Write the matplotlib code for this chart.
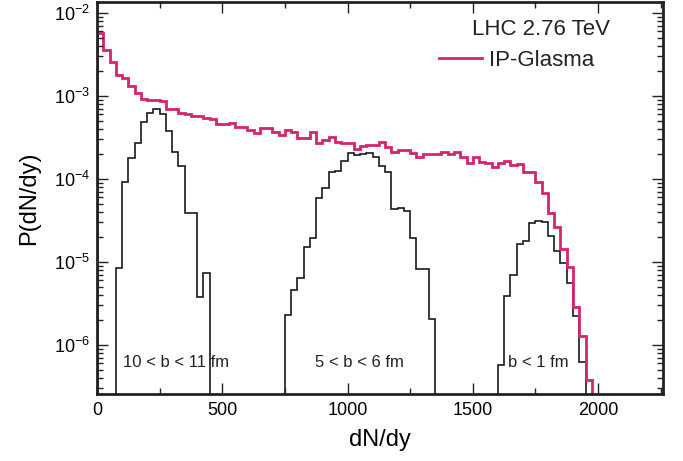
import numpy as np
import matplotlib
matplotlib.use("Agg")
import matplotlib.pyplot as plt
from matplotlib.lines import Line2D
from matplotlib.ticker import FixedLocator, LogLocator, NullFormatter

plt.rcParams['font.family'] = ['Liberation Sans', 'DejaVu Sans']
plt.rcParams['mathtext.fontset'] = 'custom'
plt.rcParams['mathtext.rm'] = 'Liberation Sans'
plt.rcParams['mathtext.it'] = 'Liberation Sans:italic'

# ---- data ----
bin_width = 25
glasma_start = 0
glasma_vals = [5.74e-3, 3.58e-3, 2.57e-3, 1.79e-3, 1.65e-3, 1.32e-3, 1.09e-3, 9.2e-4,
               8.95e-4, 8.95e-4, 8.7e-4, 6.97e-4, 6.97e-4, 6.24e-4, 6.07e-4, 5.74e-4,
               5.74e-4, 5.43e-4, 5.28e-4, 4.6e-4, 4.6e-4, 4.73e-4, 4.23e-4, 4.23e-4,
               3.89e-4, 3.58e-4, 4.11e-4, 4.11e-4, 3.68e-4, 3.39e-4, 3.89e-4, 3.68e-4,
               3.12e-4, 3.12e-4, 3.68e-4, 2.72e-4, 2.95e-4, 3.21e-4, 2.79e-4, 2.72e-4,
               2.72e-4, 2.30e-4, 2.50e-4, 2.57e-4, 2.57e-4, 2.79e-4, 2.43e-4, 2.12e-4,
               2.24e-4, 2.24e-4, 2.06e-4, 1.84e-4, 2.00e-4, 2.00e-4, 2.00e-4, 2.12e-4,
               2.00e-4, 2.12e-4, 1.84e-4, 1.56e-4, 1.84e-4, 1.60e-4, 1.56e-4, 1.40e-4,
               1.56e-4, 1.65e-4, 1.48e-4, 1.52e-4, 1.21e-4, 1.21e-4, 9.2e-5, 6.78e-5,
               3.89e-5, 2.64e-5, 1.43e-5, 8.7e-6, 2.87e-6, 1.28e-6, 3.79e-7, 2.0e-7]

periph_start = 75   # 10 < b < 11 fm
periph_vals = [8.47e-6, 9.2e-5, 1.79e-4, 2.72e-4, 4.86e-4, 6.24e-4, 6.97e-4, 6.07e-4,
               3.79e-4, 2.12e-4, 1.44e-4, 3.89e-5, 3.89e-5, 3.79e-6, 7.37e-6]

mid_start = 750     # 5 < b < 6 fm
mid_vals = [2.30e-6, 4.6e-6, 6.47e-6, 1.53e-5, 1.96e-5, 5.95e-5, 7.86e-5, 1.2e-4,
            1.26e-4, 1.66e-4, 2.07e-4, 1.95e-4, 1.99e-4, 2.04e-4, 1.83e-4, 1.45e-4,
            1.23e-4, 4.31e-5, 4.51e-5, 4.15e-5, 1.96e-5, 8.24e-6, 8.24e-6, 2.04e-6]

central_start = 1600  # b < 1 fm
central_vals = [5.74e-7, 3.93e-6, 6.97e-6, 1.63e-5, 1.81e-5, 2.97e-5, 3.15e-5, 3.01e-5,
                2.06e-5, 1.37e-5, 9.64e-6, 5.64e-6, 2.24e-6, 6.30e-7]

x_ticks = [0, 500, 1000, 1500, 2000]
x_minor = [250, 750, 1250, 1750, 2250]
labels_b = ["10 < b < 11 fm", "5 < b < 6 fm", "b < 1 fm"]
label_x = [104, 870, 1641]
label_y = 6.1e-7

PINK = '#d6246e'

def edges(start, vals):
    return start + bin_width * np.arange(len(vals) + 1)

fig = plt.figure(figsize=(6.83, 4.61), dpi=100)
ax = fig.add_axes([0.142, 0.1453, 0.829, 0.8504])

base = 1e-9
for st, vals in [(periph_start, periph_vals), (mid_start, mid_vals), (central_start, central_vals)]:
    ax.stairs(vals, edges(st, vals), baseline=base, color='#1a1a1a', lw=1.2)
ax.stairs(glasma_vals, edges(glasma_start, glasma_vals), baseline=base, color=PINK, lw=2.0)

ax.set_yscale('log')
ax.set_xlim(0, 2260)
ax.set_ylim(2.57e-7, 1.36e-2)

ax.xaxis.set_major_locator(FixedLocator(x_ticks))
ax.xaxis.set_minor_locator(FixedLocator(x_minor))
ax.yaxis.set_major_locator(LogLocator(base=10, numticks=20))
ax.yaxis.set_minor_locator(LogLocator(base=10, subs=np.arange(2, 10), numticks=50))
ax.yaxis.set_minor_formatter(NullFormatter())

ax.tick_params(which='both', direction='in', top=True, right=True, width=1.0, color='#222222')
ax.tick_params(which='major', length=8, labelsize=13)
ax.tick_params(axis='x', which='major', pad=6)
ax.tick_params(axis='y', which='major', pad=5)
ax.tick_params(which='minor', length=4)
for s in ax.spines.values():
    s.set_linewidth(2.0)
    s.set_color('#222222')

ax.set_xlabel('dN/dy', fontsize=17, labelpad=7)
ax.set_ylabel('P(dN/dy)', fontsize=17, labelpad=10)

ax.text(0.906, 0.929, 'LHC 2.76 TeV', transform=ax.transAxes, fontsize=16,
        ha='right', va='center', color='#222222')
leg = ax.legend(handles=[Line2D([], [], color=PINK, lw=2.0)], labels=['IP-Glasma'],
                loc='center right', bbox_to_anchor=(0.878, 0.852), frameon=False,
                fontsize=16, handlelength=1.95, handletextpad=0.3, borderaxespad=0,
                borderpad=0)
for t in leg.get_texts():
    t.set_color('#222222')

for t, xx in zip(labels_b, label_x):
    ax.text(xx, label_y, t, fontsize=12, ha='left', va='center', color='#222222')

fig.savefig('out.png', dpi=100)
